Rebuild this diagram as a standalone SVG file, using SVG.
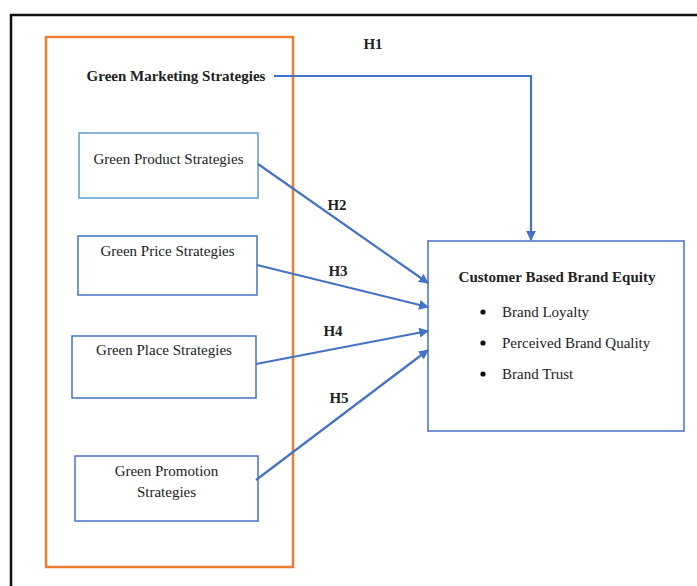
<svg xmlns="http://www.w3.org/2000/svg" width="697" height="586" viewBox="0 0 697 586">
<style>
.t{font-family:"Liberation Serif","Times New Roman",serif;font-size:15px;fill:#222}
.b{font-weight:bold}
.box{fill:#fff;stroke:#4472c4;stroke-width:1.5}
.con{fill:none;stroke:#4472c4;stroke-width:2.2}
</style>
<defs>
<marker id="ah" viewBox="0 0 10 10" refX="9" refY="5" markerWidth="4.5" markerHeight="4.5" orient="auto" markerUnits="strokeWidth">
<path d="M0,0 L10,5 L0,10 z" fill="#4472c4"/>
</marker>
</defs>
<rect x="0" y="0" width="697" height="586" fill="#fff"/>
<path d="M11,586 V15 H697" fill="none" stroke="#111" stroke-width="2.5"/>
<g id="gms">
<rect x="46" y="37" width="247" height="530" fill="none" stroke="#ed7d31" stroke-width="2.5"/>
<text class="t b" x="176" y="81" text-anchor="middle">Green Marketing Strategies</text>
</g>
<g id="product">
<rect class="box" x="79" y="133" width="179" height="65" style="stroke:#5b9bd5"/>
<text class="t" x="168.5" y="164" text-anchor="middle">Green Product Strategies</text>
</g>
<g id="price">
<rect class="box" x="78" y="236" width="179" height="59"/>
<text class="t" x="167.5" y="256" text-anchor="middle">Green Price Strategies</text>
</g>
<g id="place">
<rect class="box" x="72" y="336" width="184" height="62"/>
<text class="t" x="164" y="355" text-anchor="middle">Green Place Strategies</text>
</g>
<g id="promotion">
<rect class="box" x="75" y="456" width="183" height="65"/>
<text class="t" x="166.5" y="476" text-anchor="middle">Green Promotion</text>
<text class="t" x="166.5" y="497" text-anchor="middle">Strategies</text>
</g>
<g id="cbbe">
<rect class="box" x="428" y="241" width="256" height="190"/>
<text class="t b" x="557" y="282" text-anchor="middle">Customer Based Brand Equity</text>
<circle cx="483" cy="312" r="2.6" fill="#111"/>
<text class="t" x="502" y="317">Brand Loyalty</text>
<circle cx="483" cy="343" r="2.6" fill="#111"/>
<text class="t" x="502" y="348">Perceived Brand Quality</text>
<circle cx="483" cy="374" r="2.6" fill="#111"/>
<text class="t" x="502" y="379">Brand Trust</text>
</g>
<g id="connectors">
<path class="con" d="M274,76 H531 V240" marker-end="url(#ah)"/>
<path class="con" d="M258,164 L428,283" marker-end="url(#ah)"/>
<path class="con" d="M257,265 L428,307" marker-end="url(#ah)"/>
<path class="con" d="M256,364 L428,331" marker-end="url(#ah)"/>
<path class="con" d="M256,480 L428,350" marker-end="url(#ah)"/>
<text class="t b" x="373" y="49" text-anchor="middle" font-size="14">H1</text>
<text class="t b" x="337" y="210" text-anchor="middle" font-size="14">H2</text>
<text class="t b" x="338" y="276" text-anchor="middle" font-size="14">H3</text>
<text class="t b" x="333" y="336" text-anchor="middle" font-size="14">H4</text>
<text class="t b" x="339" y="403" text-anchor="middle" font-size="14">H5</text>
</g>
</svg>
